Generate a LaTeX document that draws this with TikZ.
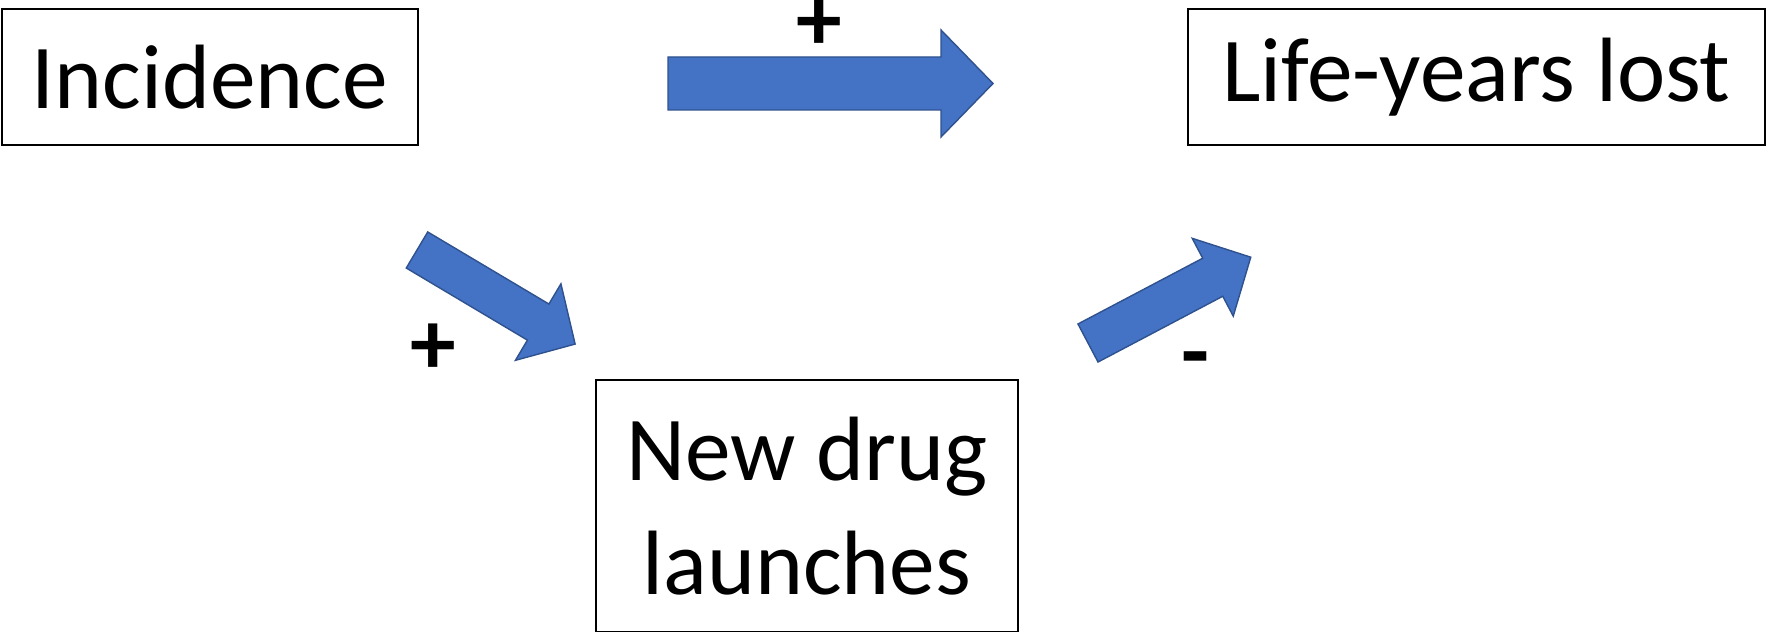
\documentclass[tikz,border=0pt]{standalone}
\usepackage{fontspec}
\setmainfont{Carlito}
\usetikzlibrary{positioning}

\definecolor{arrfill}{HTML}{4472C4}
\definecolor{arrline}{HTML}{2F528F}

%% block arrow: tail point, angle, length, shaft half width, head half width, head length
\newcommand\blockarrow[6]{%
  \draw[blockarr, shift={(#1)}, rotate=#2]
    (0,-#4) -- ({#3-#6},-#4) -- ({#3-#6},-#5) -- (#3,0)
    -- ({#3-#6},#5) -- ({#3-#6},#4) -- (0,#4) -- cycle;}

\begin{document}
\begin{tikzpicture}[
  x=0.2mm, y=-0.2mm,
  %% Boxes with the three variables
  varbox/.style={draw, line width=0.75pt, inner sep=0pt, align=center,
                 font=\fontsize{52}{64.6}\selectfont},
  %% Sign labels next to the arrows
  signlab/.style={inner sep=0pt, font=\fontsize{52}{60}\selectfont\bfseries},
  %% Blue block arrows
  blockarr/.style={fill=arrfill, draw=arrline, line width=0.8pt, line join=miter}
]
\useasboundingbox (0,0) rectangle (1767,632);

%% ── Variables ──────────────────────────────────────────────────────────
\node[varbox, minimum width=416*0.2mm, minimum height=136*0.2mm] (inc) at (210,77) {Incidence};
\node[varbox, minimum width=577*0.2mm, minimum height=136*0.2mm] (lyl) at (1476.5,77) {Life-years lost};
\node[varbox, minimum width=422*0.2mm, minimum height=252*0.2mm] (ndl) at (807,506) {New drug\\launches};

%% ── Block arrows ───────────────────────────────────────────────────────
\blockarrow{668,83.5}{0}{325}{26.5}{53.5}{52}
\blockarrow{417,250}{-30.75}{184}{21}{44.5}{43}
\blockarrow{1088,343}{27.8}{184}{21.5}{44}{43}

%% ── Signs ──────────────────────────────────────────────────────────────
\node[signlab] (s1) at (819,25) {+};
\node[signlab] (s2) at (433,349) {+};
\node[signlab] (s3) at (1195,367) {-};

\end{tikzpicture}
\end{document}
